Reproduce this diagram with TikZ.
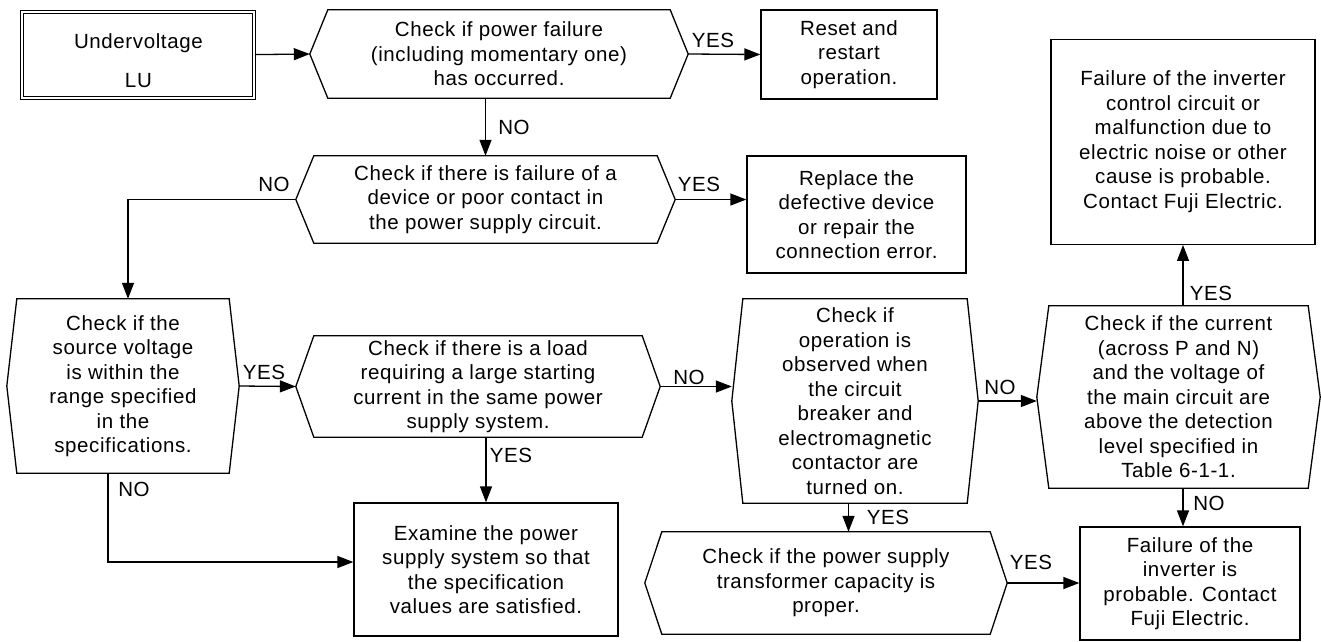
\documentclass[tikz,border=0pt]{standalone}
\usepackage{fontspec}
\setmainfont{Liberation Sans}[LetterSpace=3]
\usetikzlibrary{arrows.meta}

\tikzset{
  frame/.style={line width=1.3pt, line join=miter},
  box/.style={draw, frame, align=center, inner sep=0pt},
  hexa/.style={align=center, inner sep=0pt},
  arr/.style={line width=1.3pt, -{Triangle[length=16pt,width=12pt]}},
  lbl/.style={inner sep=0pt},
}

% outline of a decision node: pointed at west and east
\newcommand{\hexframe}[2]{%
  \draw[frame] ([xshift=#2]#1.north west) -- ([xshift=-#2]#1.north east) -- (#1.east)
    -- ([xshift=-#2]#1.south east) -- ([xshift=#2]#1.south west) -- (#1.west) -- cycle;}

\begin{document}
\begin{tikzpicture}[x=1pt, y=-1pt, every node/.style={font=\fontsize{20.5}{24.5}\selectfont}]
  \useasboundingbox (0,0) rectangle (1321,641);

  % start
  \node[box, double, double distance=2pt, line width=1pt, minimum width=232pt, minimum height=86pt]
    (uv) at (138.4,54.6) {\rule{0pt}{27pt}Undervoltage\\[14pt]LU};

  % top row
  \node[hexa, minimum width=378pt, minimum height=88pt] (hex1) at (499,54)
    {Check if power failure\\(including momentary one)\\has occurred.};
  \node[box, minimum width=176pt, minimum height=89pt] (reset) at (849,54.5)
    {Reset and\\restart\\operation.};

  \node[hexa, minimum width=379pt, minimum height=87pt] (hex2) at (485.5,199.5)
    {Check if there is failure of a\\device or poor contact in\\the power supply circuit.};
  \node[box, minimum width=219pt, minimum height=117pt] (replace) at (856.5,214.5)
    {Replace the\\defective device\\or repair the\\connection error.};

  \node[box, minimum width=264pt, minimum height=205pt] (failctl) at (1183,141.8)
    {Failure of the inverter\\control circuit or\\malfunction due to\\electric noise or other\\cause is probable.\\Contact Fuji Electric.};

  % middle row
  \node[hexa, minimum width=232pt, minimum height=174pt] (hex3) at (123,386)
    {Check if the\\source voltage\\is within the\\range specified\\in the\\specifications.};
  \node[hexa, minimum width=364pt, minimum height=101pt] (hex4) at (478,386.5)
    {Check if there is a load\\requiring a large starting\\current in the same power\\supply system.};
  \node[hexa, minimum width=246pt, minimum height=204pt] (hex5) at (855,401)
    {Check if\\operation is\\observed when\\the circuit\\breaker and\\electromagnetic\\contactor are\\turned on.};
  \node[hexa, minimum width=283pt, minimum height=182pt] (hex6) at (1178.5,397)
    {Check if the current\\(across P and N)\\and the voltage of\\the main circuit are\\above the detection\\level specified in\\Table 6-1-1.};

  % bottom row
  \node[box, minimum width=264pt, minimum height=133pt] (examine) at (486,569.5)
    {Examine the power\\supply system so that\\the specification\\values are satisfied.};
  \node[hexa, minimum width=362pt, minimum height=102pt] (hex7) at (826,583)
    {Check if the power supply\\transformer capacity is\\proper.};
  \node[box, minimum width=220pt, minimum height=113pt] (fail2) at (1190,583.5)
    {Failure of the\\inverter is\\probable. Contact\\Fuji Electric.};

  \hexframe{hex1}{18pt}
  \hexframe{hex2}{18pt}
  \hexframe{hex3}{10pt}
  \hexframe{hex4}{18pt}
  \hexframe{hex5}{11pt}
  \hexframe{hex6}{12pt}
  \hexframe{hex7}{17pt}

  % connectors
  \draw[arr] (uv.east) -- (hex1.west);
  \draw[arr] (hex1.east) -- (reset.west);
  \draw[arr] (hex2.north |- hex1.south) -- (hex2.north);
  \draw[arr] (hex2.east) -- (hex2.east -| replace.west);
  \draw[arr] (hex2.west) -| ([xshift=5pt]hex3.north);
  \draw[arr] (hex3.east) -- (hex4.west);
  \draw[arr] ([xshift=-15pt]hex3.south) |- ([yshift=7.5pt]examine.west);
  \draw[arr] (examine.north |- hex4.south) -- (examine.north);
  \draw[arr] (hex4.east) -- (hex4.east -| hex5.west);
  \draw[arr] (hex5.east) -- (hex5.east -| hex6.west);
  \draw[arr] ([xshift=-6.5pt]hex5.south) -- ([xshift=-6.5pt]hex5.south |- hex7.north);
  \draw[arr] (hex7.east) -- (hex7.east -| fail2.west);
  \draw[arr] (failctl.south |- hex6.north) -- (failctl.south);
  \draw[arr] (failctl.south |- hex6.south) -- (failctl.south |- fail2.north);

  % answers
  \node[lbl] (yes1) at (713,40) {YES};
  \node[lbl] (no1) at (514,127) {NO};
  \node[lbl] (yes2) at (699,184) {YES};
  \node[lbl] (no2) at (274,184) {NO};
  \node[lbl] (yes3) at (264,372) {YES};
  \node[lbl] (no3) at (689,377) {NO};
  \node[lbl] (yes4) at (511,455) {YES};
  \node[lbl] (no4) at (134,489) {NO};
  \node[lbl] (yes5) at (888,517) {YES};
  \node[lbl] (no5) at (1000,387) {NO};
  \node[lbl] (yes6) at (1211,293) {YES};
  \node[lbl] (no6) at (1209,503) {NO};
  \node[lbl] (yes7) at (1031,562) {YES};
\end{tikzpicture}
\end{document}
